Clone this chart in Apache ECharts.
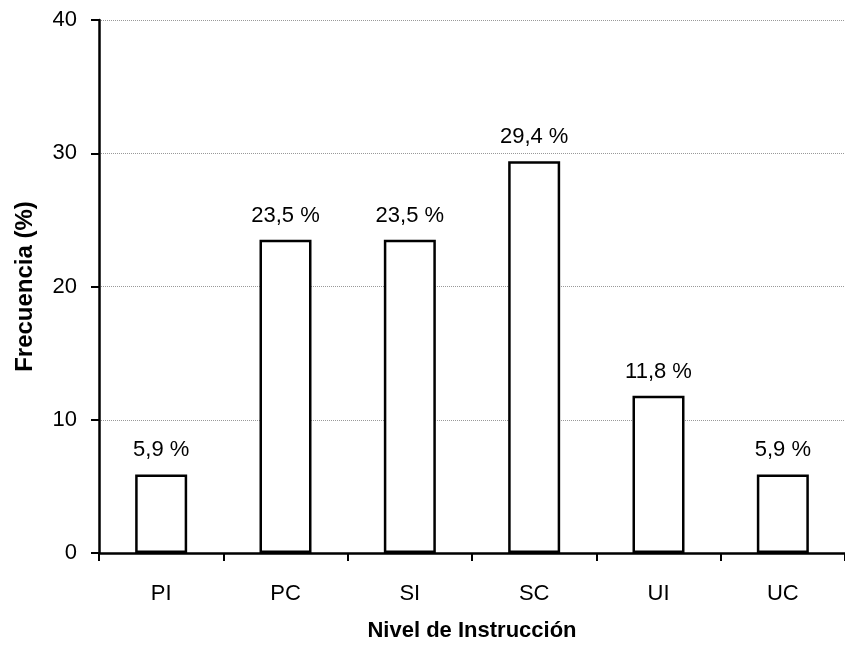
<!DOCTYPE html>
<html>
<head>
<meta charset="utf-8">
<script src="https://cdn.jsdelivr.net/npm/echarts@6/dist/echarts.min.js"></script>
<style>
  html, body { margin: 0; padding: 0; background: #fff; }
  #chart { width: 845px; height: 648px; }
</style>
</head>
<body>
<div id="chart"></div>
<script>
const categories = ['PI', 'PC', 'SI', 'SC', 'UI', 'UC']
const frecuencia = [5.9, 23.5, 23.5, 29.4, 11.8, 5.9]

const font = 'Liberation Sans, Arial, sans-serif'

let myChart = echarts.init(document.getElementById('chart'))

let option = {
    animation: false,
    backgroundColor: '#fff',
    textStyle: { fontFamily: font, color: '#000' },
    grid: {
        left: 99,
        right: -3,
        top: 20,
        bottom: 95
    },
    xAxis: {
        type: 'category',
        data: categories,
        name: 'Nivel de Instrucción',
        nameLocation: 'middle',
        nameGap: 67,
        nameTextStyle: { fontSize: 22, fontWeight: 'bold', color: '#000', fontFamily: font },
        axisLine: { lineStyle: { color: '#000', width: 2.5 } },
        axisTick: { show: true, length: 8, alignWithLabel: false, lineStyle: { color: '#000', width: 2 } },
        axisLabel: { fontSize: 22, color: '#000', margin: 30, fontFamily: font }
    },
    yAxis: {
        type: 'value',
        min: 0,
        max: 40,
        interval: 10,
        name: 'Frecuencia (%)',
        nameLocation: 'middle',
        nameGap: 62,
        nameTextStyle: { fontSize: 24, fontWeight: 'bold', color: '#000', fontFamily: font },
        axisLine: { show: true, lineStyle: { color: '#000', width: 2.5 } },
        axisTick: { show: true, length: 8, lineStyle: { color: '#000', width: 2 } },
        axisLabel: { fontSize: 22, color: '#000', margin: 22, fontFamily: font },
        splitLine: { show: true, lineStyle: { color: '#999', width: 1, type: 'dotted' } }
    },
    series: [
        {
            type: 'bar',
            data: frecuencia,
            barWidth: 52,
            itemStyle: { color: '#fff', borderColor: '#000', borderWidth: 2.5 },
            label: {
                show: true,
                position: 'top',
                distance: 13,
                fontSize: 22,
                color: '#000',
                fontFamily: font,
                formatter: p => String(p.value).replace('.', ',') + ' %'
            }
        }
    ]
}

myChart.setOption(option)
</script>
</body>
</html>
